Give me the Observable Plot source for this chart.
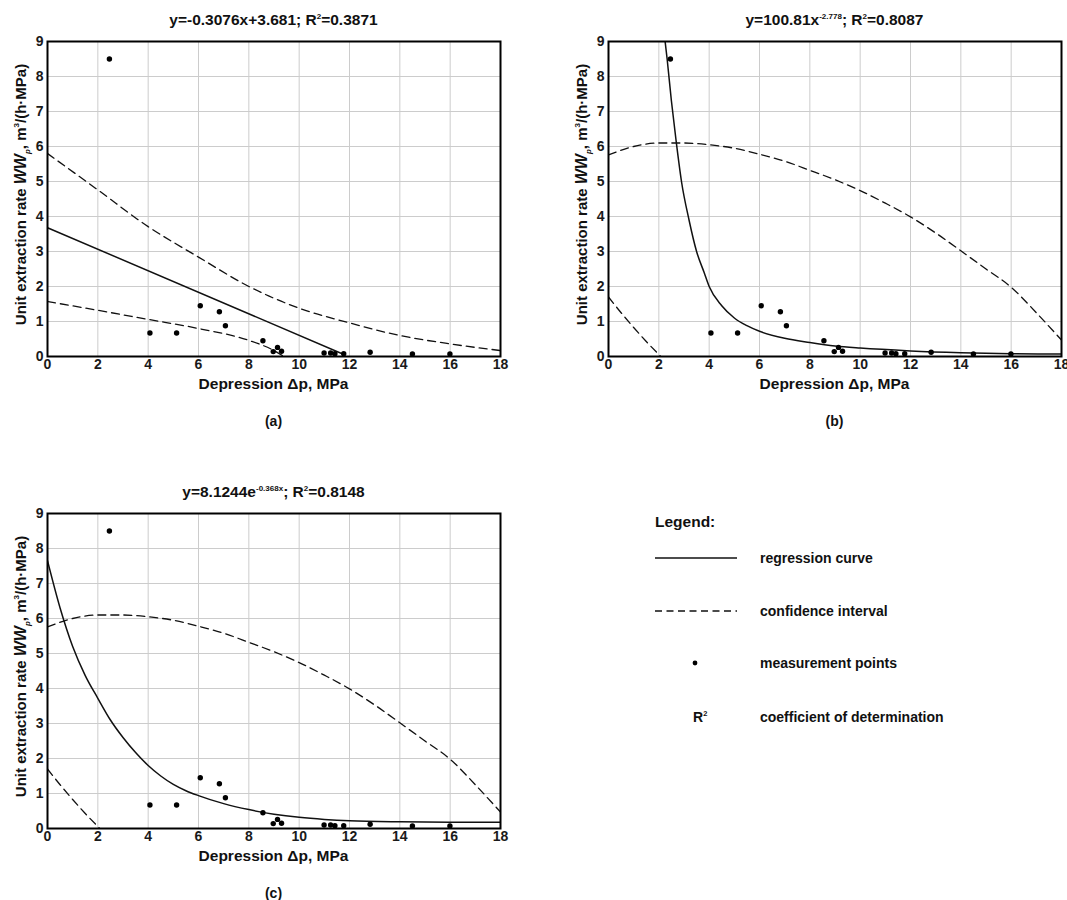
<!DOCTYPE html>
<html><head><meta charset="utf-8">
<script src="https://cdn.jsdelivr.net/npm/d3@7"></script>
<script src="https://cdn.jsdelivr.net/npm/@observablehq/plot@0.6"></script>
<style>
body{margin:0;background:#fff;}
#wrap{position:relative;width:1067px;height:900px;overflow:hidden;background:#fff;font-family:"Liberation Sans",Arial,sans-serif;}
#wrap > svg, #wrap > figure{position:absolute;margin:0;}
g[aria-label="x-axis tick label"], g[aria-label="y-axis tick label"]{font-size:14px;font-weight:bold;}
</style></head><body><div id="wrap"></div>
<script>
// ---- tick labels ----
const xTicks = [0, 2, 4, 6, 8, 10, 12, 14, 16, 18];
const yTicks = [0, 1, 2, 3, 4, 5, 6, 7, 8, 9];

// ---- measurement points (depression MPa, unit extraction rate) ----
const depression = [2.46, 4.07, 5.13, 6.07, 6.83, 7.07, 8.56, 8.97, 9.14, 9.30, 10.99, 11.25, 11.42, 11.77, 12.82, 14.50, 15.99];
const extraction = [8.5, 0.67, 0.67, 1.45, 1.28, 0.88, 0.45, 0.14, 0.26, 0.15, 0.10, 0.10, 0.08, 0.08, 0.12, 0.07, 0.07];

// ---- (a) linear regression and its confidence interval ----
const linFitX = [0, 11.8];
const linFitY = [3.68, 0.05];
const linUpperX = [0, 2, 4, 6, 8, 10, 12, 14, 16, 18];
const linUpperY = [5.8, 4.76, 3.71, 2.84, 2.0, 1.38, 0.96, 0.6, 0.36, 0.17];
const linLowerX = [0, 2, 4, 6, 8, 9, 9.35];
const linLowerY = [1.57, 1.32, 1.06, 0.8, 0.46, 0.17, 0.02];

// ---- (b) power regression ----
const powFitX = [2.25, 2.33, 2.5, 2.68, 2.9, 3.2, 3.5, 3.8, 4.0, 4.5, 5.0, 5.5, 6, 7, 8, 9, 10, 12, 14, 16, 18];
const powFitY = [9.0, 8.5, 7.3, 6.2, 5.0, 3.9, 3.0, 2.4, 2.0, 1.45, 1.1, 0.88, 0.72, 0.52, 0.4, 0.3, 0.24, 0.16, 0.11, 0.08, 0.07];

// ---- (c) exponential regression ----
const expFitX = [0, 0.5, 1, 1.5, 2, 2.5, 3, 3.5, 4, 4.5, 5, 5.5, 6, 7, 8, 9, 10, 11, 12, 14, 16, 18];
const expFitY = [7.65, 6.3, 5.2, 4.37, 3.72, 3.1, 2.6, 2.17, 1.8, 1.5, 1.26, 1.08, 0.94, 0.71, 0.54, 0.41, 0.32, 0.26, 0.22, 0.19, 0.18, 0.18];

// ---- (b), (c) confidence interval ----
const ciUpperX = [0, 1, 2, 3, 4, 5, 6, 7, 8, 9, 10, 11, 12, 13, 14, 15, 16, 17, 18];
const ciUpperY = [5.76, 6.0, 6.1, 6.1, 6.05, 5.95, 5.78, 5.58, 5.32, 5.05, 4.74, 4.38, 3.99, 3.53, 3.02, 2.5, 1.98, 1.25, 0.47];
const ciLowerX = [0, 0.5, 1, 1.5, 2.08];
const ciLowerY = [1.7, 1.25, 0.83, 0.43, 0];

const zip = (xs, ys) => xs.map((x, i) => ({x, y: ys[i]}));
const points = zip(depression, extraction);

const wrap = document.getElementById("wrap");
const FONT = "'Liberation Sans', Arial, Helvetica, sans-serif";

function panel({left, top, fit, upper, lower, title, tag}) {
  const W = 530, H = 440, ML = 47, MR = 30, MT = 41, MB = 84;
  const svg = Plot.plot({
    width: W, height: H,
    marginLeft: ML, marginRight: MR, marginTop: MT, marginBottom: MB,
    x: {domain: [0, 18]},
    y: {domain: [0, 9]},
    style: {fontFamily: FONT, fontSize: "14px", fontWeight: "bold", color: "#1a1a1a", background: "transparent", overflow: "visible"},
    marks: [
      Plot.gridX(xTicks, {stroke: "#cccccc", strokeOpacity: 1, strokeWidth: 1}),
      Plot.gridY(yTicks, {stroke: "#cccccc", strokeOpacity: 1, strokeWidth: 1}),
      Plot.axisX(xTicks, {tickSize: 0, tickPadding: 3, label: null, fontSize: 14, fontWeight: "bold"}),
      Plot.axisY(yTicks, {tickSize: 0, tickPadding: 4, label: null, fontSize: 14, fontWeight: "bold"}),
      Plot.line(lower, {x: "x", y: "y", curve: "monotone-x", stroke: "#111", strokeWidth: 1.3, strokeDasharray: "8,5", clip: true}),
      Plot.line(upper, {x: "x", y: "y", curve: "monotone-x", stroke: "#111", strokeWidth: 1.3, strokeDasharray: "8,5", clip: true}),
      Plot.line(fit, {x: "x", y: "y", curve: "monotone-x", stroke: "#111", strokeWidth: 1.5, clip: true}),
      Plot.dot(points, {x: "x", y: "y", r: 2.7, fill: "#000", stroke: "none"}),
      Plot.frame({stroke: "#000", strokeWidth: 2})
    ]
  });
  svg.style.left = left + "px";
  svg.style.top = top + "px";
  wrap.appendChild(svg);
  const s = d3.select(svg);
  const cx = ML + (W - ML - MR) / 2;
  // title with superscripts
  const t = s.append("text").attr("x", cx).attr("y", 25).attr("text-anchor", "middle")
    .attr("font-family", FONT).attr("font-size", 15.5).attr("font-weight", "bold").attr("fill", "#111");
  title.forEach(seg => {
    const ts = t.append("tspan").text(seg.t);
    if (seg.sup) ts.attr("font-size", 8).attr("dy", -6);
    if (seg.back) ts.attr("dy", 6);
  });
  // x label
  s.append("text").attr("x", cx).attr("y", 389).attr("text-anchor", "middle")
    .attr("font-family", FONT).attr("font-size", 15.5).attr("font-weight", "bold").attr("fill", "#111")
    .text("Depression \u0394p, MPa");
  // panel tag
  s.append("text").attr("x", cx).attr("y", 426).attr("text-anchor", "middle")
    .attr("font-family", FONT).attr("font-size", 14).attr("font-weight", "bold").attr("fill", "#111")
    .text(tag);
  // y label
  const yl = s.append("text").attr("transform", `translate(25.5,${MT + (356 - MT) / 2 - 4}) rotate(-90)`)
    .attr("text-anchor", "middle").attr("font-family", FONT).attr("font-size", 15)
    .attr("font-weight", "bold").attr("fill", "#111");
  yl.append("tspan").text("Unit extraction rate ");
  yl.append("tspan").attr("font-style", "italic").attr("font-size", 16).text("WW");
  yl.append("tspan").attr("font-style", "italic").attr("font-size", 8).attr("dy", 4).text("p");
  yl.append("tspan").attr("dy", -4).text(", m");
  yl.append("tspan").attr("font-size", 8).attr("dy", -7).text("3");
  yl.append("tspan").attr("dy", 7).text("/(h\u00b7MPa)");
}

panel({left: 0, top: 0, fit: zip(linFitX, linFitY), upper: zip(linUpperX, linUpperY), lower: zip(linLowerX, linLowerY),
  title: [{t: "y=-0.3076x+3.681; R"}, {t: "2", sup: true}, {t: "=0.3871", back: true}], tag: "(a)"});
panel({left: 561, top: 0, fit: zip(powFitX, powFitY), upper: zip(ciUpperX, ciUpperY), lower: zip(ciLowerX, ciLowerY),
  title: [{t: "y=100.81x"}, {t: "-2.778", sup: true}, {t: "; R", back: true}, {t: "2", sup: true}, {t: "=0.8087", back: true}], tag: "(b)"});
panel({left: 0, top: 472, fit: zip(expFitX, expFitY), upper: zip(ciUpperX, ciUpperY), lower: zip(ciLowerX, ciLowerY),
  title: [{t: "y=8.1244e"}, {t: "-0.368x", sup: true}, {t: "; R", back: true}, {t: "2", sup: true}, {t: "=0.8148", back: true}], tag: "(c)"});

// ---- legend ----
const lg = d3.select(wrap).append("svg").attr("width", 427).attr("height", 260)
  .style("left", "640px").style("top", "490px").style("position", "absolute");
function txt(x, y, str, size) {
  return lg.append("text").attr("x", x).attr("y", y).attr("font-family", FONT)
    .attr("font-size", size).attr("font-weight", "bold").attr("fill", "#111").text(str);
}
txt(15, 37, "Legend:", 15.5);
lg.append("line").attr("x1", 15).attr("x2", 97).attr("y1", 68).attr("y2", 68).attr("stroke", "#111").attr("stroke-width", 1.5);
txt(120, 73, "regression curve", 14);
lg.append("line").attr("x1", 15).attr("x2", 97).attr("y1", 121).attr("y2", 121).attr("stroke", "#111").attr("stroke-width", 1.3).attr("stroke-dasharray", "7,4.5");
txt(120, 126, "confidence interval", 14);
lg.append("circle").attr("cx", 55).attr("cy", 173).attr("r", 2.4).attr("fill", "#000");
txt(120, 178, "measurement points", 14);
const r2 = txt(53, 232, "R", 14);
r2.append("tspan").attr("font-size", 7.5).attr("dy", -6).text("2");
txt(120, 232, "coefficient of determination", 14);
</script>
</body></html>
